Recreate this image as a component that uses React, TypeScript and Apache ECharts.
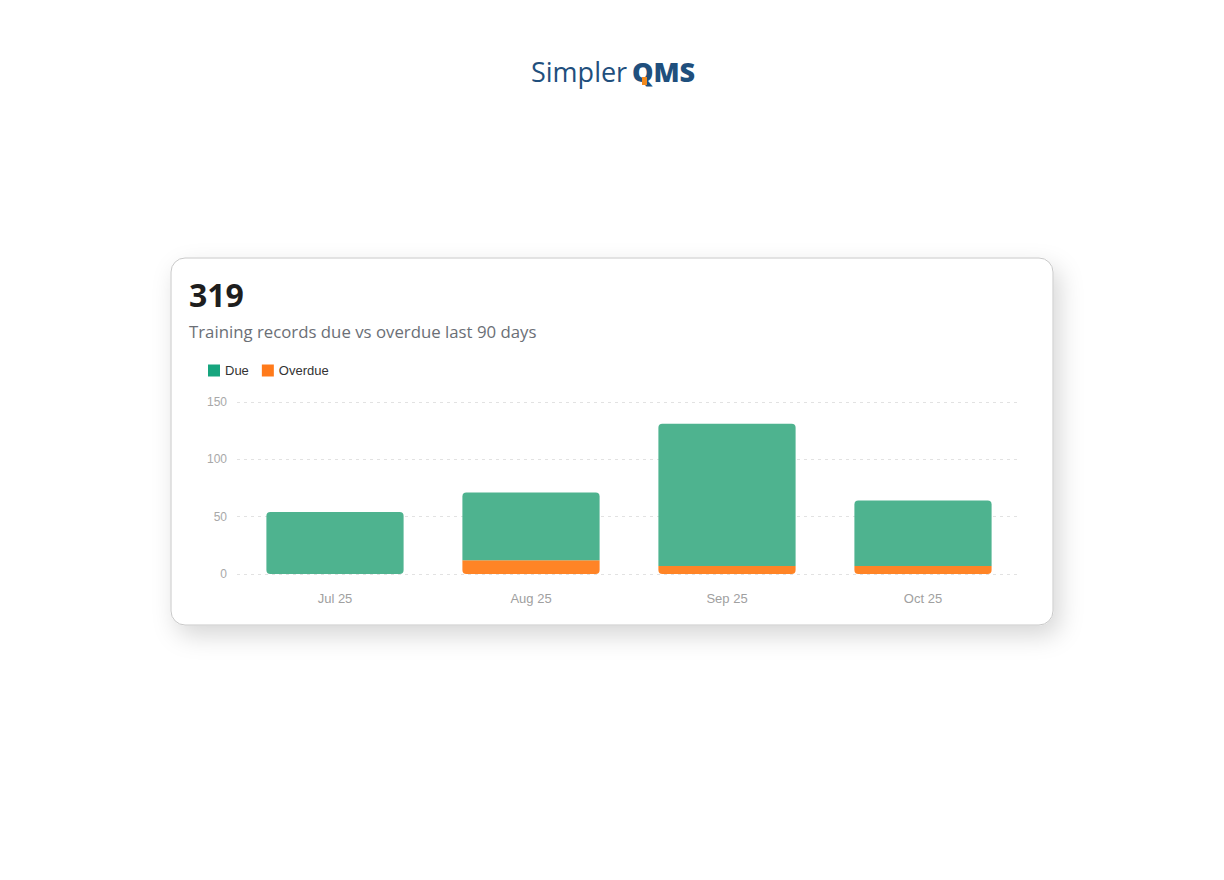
import React, { useEffect, useRef } from "react";
import * as echarts from "echarts";

const months = ["Jul 25", "Aug 25", "Sep 25", "Oct 25"];
const dueValues = [54, 59, 124, 57];
const overdueValues = [0, 12, 7, 7];
const yTicks = { min: 0, max: 150, interval: 50 };
const headline = "319";
const subtitle = "Training records due vs overdue last 90 days";

export default function App() {
  const ref = useRef<HTMLDivElement>(null);
  useEffect(() => {
    if (!ref.current) return;
    const chart = echarts.init(ref.current, undefined, { renderer: "svg" });
    const dueData = dueValues.map((v, i) => ({
      value: v,
      itemStyle: { borderRadius: overdueValues[i] > 0 ? [4, 4, 0, 0] : [4, 4, 4, 4] },
    }));
    chart.setOption({
      animation: false,
      backgroundColor: "#ffffff",
      graphic: [
        {
          type: "rect",
          shape: { x: 171, y: 258, width: 882, height: 367, r: 14 },
          style: {
            fill: "#ffffff",
            stroke: "#c8c8c8",
            lineWidth: 1,
            shadowBlur: 24,
            shadowOffsetX: 6,
            shadowOffsetY: 10,
            shadowColor: "rgba(0,0,0,0.16)",
          },
          z: -10,
        },
        {
          type: "text",
          x: 531,
          y: 71,
          style: {
            text: "Simpler",
            fill: "#1f4f7d",
            font: "400 27px 'Open Sans', sans-serif",
            verticalAlign: "middle",
          },
        },
        {
          type: "text",
          x: 632,
          y: 71,
          style: {
            text: "QMS",
            fill: "#1f4f7d",
            font: "800 27px 'Open Sans', sans-serif",
            verticalAlign: "middle",
          },
        },
        {
          type: "rect",
          shape: { x: 642, y: 77, width: 5, height: 8 },
          style: { fill: "#f28a1e" },
          z: 10,
        },
        {
          type: "text",
          x: 189,
          y: 294,
          style: {
            text: headline,
            fill: "#1e1e1e",
            font: "700 32px 'Open Sans', sans-serif",
            verticalAlign: "middle",
          },
        },
        {
          type: "text",
          x: 189,
          y: 331,
          style: {
            text: subtitle,
            fill: "#6b6f76",
            font: "400 16.8px 'Open Sans', sans-serif",
            verticalAlign: "middle",
          },
        },
      ],
      legend: {
        left: 208,
        top: 364,
        padding: 0,
        itemWidth: 12,
        itemHeight: 12,
        itemGap: 13,
        icon: "rect",
        textStyle: { color: "#333", fontSize: 13, fontFamily: "'Liberation Sans', Arial, sans-serif" },
        data: [
          { name: "Due", itemStyle: { color: "#17a57e" } },
          { name: "Overdue", itemStyle: { color: "#ff7a1a" } },
        ],
      },
      grid: { left: 237, right: 203, top: 402, bottom: 306, containLabel: false },
      xAxis: {
        type: "category",
        data: months,
        axisLine: { show: false },
        axisTick: { show: false },
        axisLabel: { color: "#a0a0a0", fontSize: 13, margin: 18, fontFamily: "'Liberation Sans', Arial, sans-serif" },
      },
      yAxis: {
        type: "value",
        min: yTicks.min,
        max: yTicks.max,
        interval: yTicks.interval,
        axisLine: { show: false },
        axisTick: { show: false },
        axisLabel: { color: "#a8a8a8", fontSize: 12, margin: 10, fontFamily: "'Liberation Sans', Arial, sans-serif" },
        splitLine: { lineStyle: { color: "#e2e2e2", type: [3, 4] } },
      },
      series: [
        {
          name: "Overdue",
          type: "bar",
          stack: "total",
          barWidth: "70%",
          data: overdueValues,
          itemStyle: { color: "#ff8426", borderRadius: [0, 0, 4, 4] },
        },
        {
          name: "Due",
          type: "bar",
          stack: "total",
          barWidth: "70%",
          data: dueData,
          itemStyle: { color: "#4eb38f" },
        },
      ],
    });
    return () => chart.dispose();
  }, []);
  return (
    <div
      ref={ref}
      style={{ position: "absolute", left: 0, top: 0, width: 1224, height: 880 }}
    />
  );
}
